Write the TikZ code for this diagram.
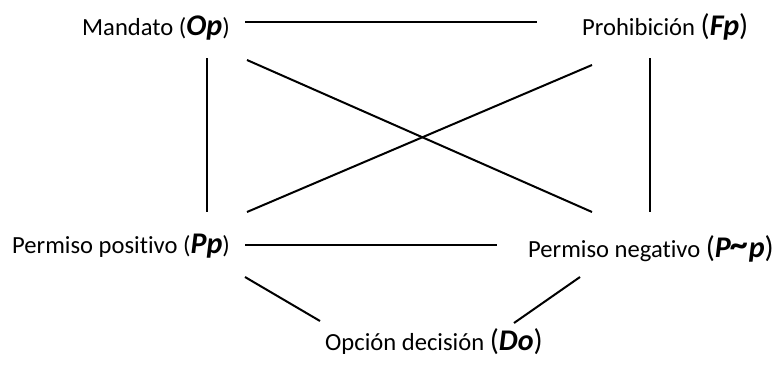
\documentclass[tikz,border=0pt]{standalone}
\usepackage{fontspec}
\setmainfont[Ligatures=NoCommon]{Carlito}
\newcommand{\mybi}[1]{\textbf{\textit{#1}}}
\newcommand{\mylarge}[1]{{\fontsize{30}{34}\selectfont #1}}
\newcommand{\mytilde}{\raisebox{0.02em}{\scalebox{1.2}[1.2]{\textasciitilde}}}
\begin{document}
\begin{tikzpicture}[x=1pt,y=-1pt,
  lbl/.style={anchor=base west,inner sep=0pt,font=\fontsize{24.6}{29}\selectfont},
  conn/.style={line width=2pt,black}]
\useasboundingbox (0,0) rectangle (779,367);
\node[lbl] (op) at (82,35) {Mandato (\mylarge{\mybi{Op}})};
\node[lbl] (fp) at (582,35) {Prohibición \mylarge{(\mybi{Fp})}};
\node[lbl] (pp) at (12,253) {Permiso positivo (\mylarge{\mybi{Pp}})};
\node[lbl] (pnp) at (528,257) {Permiso negativo \mylarge{(\mybi{P\mytilde p})}};
\node[lbl] (do) at (325,350) {Opción decisión \mylarge{(\mybi{Do})}};
% endpoints
\coordinate (opR) at (245,22);
\coordinate (fpL) at (537,22);
\coordinate (opB) at (207,58);
\coordinate (ppT) at (207,212);
\coordinate (fpB) at (650,58);
\coordinate (pnpT) at (650,212);
\coordinate (opD) at (247,60);
\coordinate (pnpD) at (592,212);
\coordinate (ppD) at (247,212);
\coordinate (fpD) at (592,65);
\coordinate (ppR) at (245,245);
\coordinate (pnpL) at (497,245);
\coordinate (ppB) at (245,277);
\coordinate (doL) at (320,321);
\coordinate (pnpB) at (580,277);
\coordinate (doR) at (514,323);
\draw[conn] (opR) -- (fpL);
\draw[conn] (opB) -- (ppT);
\draw[conn] (fpB) -- (pnpT);
\draw[conn] (opD) -- (pnpD);
\draw[conn] (ppD) -- (fpD);
\draw[conn] (ppR) -- (pnpL);
\draw[conn] (ppB) -- (doL);
\draw[conn] (pnpB) -- (doR);
\end{tikzpicture}
\end{document}
